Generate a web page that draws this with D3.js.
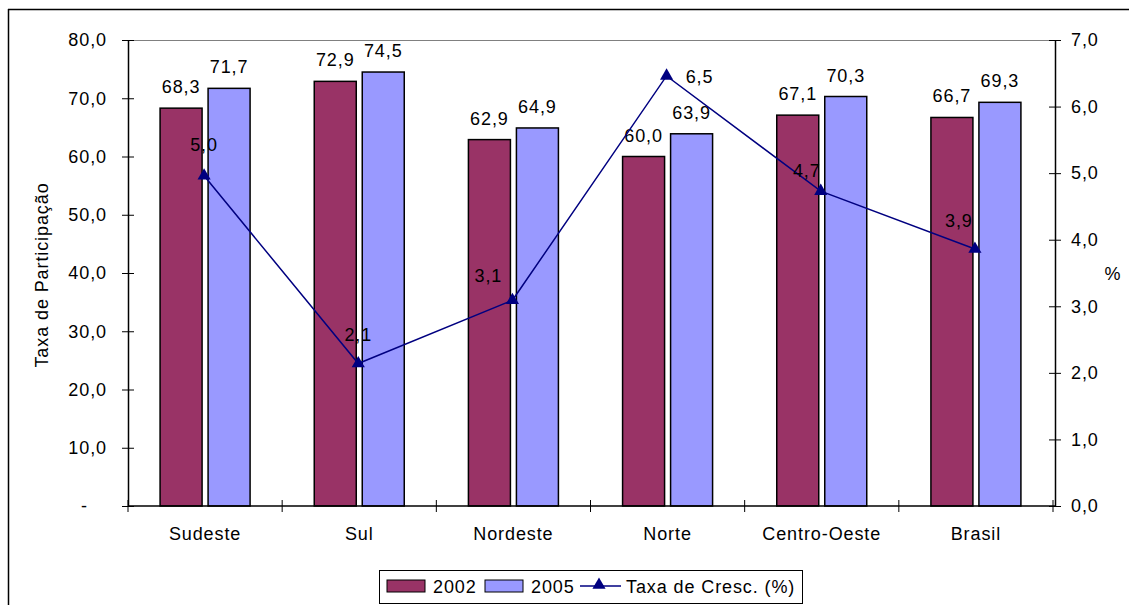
<!DOCTYPE html>
<html><head><meta charset="utf-8">
<script src="https://cdn.jsdelivr.net/npm/d3@7"></script>
<style>body{margin:0;background:#fff}svg{display:block;font-family:"Liberation Sans",Arial,sans-serif}</style>
</head><body><svg id="c" width="1129" height="605"></svg>
<script>
const categories = ["Sudeste","Sul","Nordeste","Norte","Centro-Oeste","Brasil"];
const values2002 = [68.3,72.9,62.9,60.0,67.1,66.7];
const values2005 = [71.7,74.5,64.9,63.9,70.3,69.3];
const growth = [4.96,2.14,3.09,6.46,4.73,3.86];
const leftTicks = [0,10,20,30,40,50,60,70,80];
const rightTicks = [0,1,2,3,4,5,6,7];
const seriesNames = ["2002","2005","Taxa de Cresc. (%)"];
// label offsets for line labels (layout)
const growthLabelOffsets = [[0,-25],[0,-23],[-24,-18],[33,7],[-14,-14],[-16,-22]];

const svg = d3.select("#c");
const L=128,R=1053,T=40,B=506;
const fmt = d => d.toFixed(1).replace(".",",");
const fs = 18;
svg.style("letter-spacing","0.9px");

// outer border (left/top)
svg.append("line").attr("x1",8.5).attr("x2",8.5).attr("y1",9).attr("y2",605).attr("stroke","#000").attr("stroke-width",1.5);
svg.append("line").attr("x1",8).attr("x2",1129).attr("y1",9.5).attr("y2",9.5).attr("stroke","#000").attr("stroke-width",1.5);

const x0 = d3.scaleBand().domain(categories).range([L,R]);
const yL = d3.scaleLinear().domain([0,80]).range([B,T]);
const yR = d3.scaleLinear().domain([0,7]).range([B,T]);
const barW = 42, gap = 6;

// plot top border
svg.append("line").attr("x1",L).attr("x2",R).attr("y1",T+0.5).attr("y2",T+0.5).attr("stroke","#808080");

const g = svg.append("g");
const series = [{vals:values2002,color:"#993366",off:-(barW+gap/2)},{vals:values2005,color:"#9999FF",off:gap/2}];
series.forEach(s=>{
  g.selectAll(null).data(categories).enter().append("rect")
    .attr("x",(d,i)=>x0(d)+x0.bandwidth()/2+s.off)
    .attr("y",(d,i)=>yL(s.vals[i]))
    .attr("width",barW).attr("height",(d,i)=>B-yL(s.vals[i]))
    .attr("fill",s.color).attr("stroke","#000").attr("stroke-width",1.5);
  g.selectAll(null).data(categories).enter().append("text")
    .attr("x",(d,i)=>x0(d)+x0.bandwidth()/2+s.off+barW/2)
    .attr("y",(d,i)=>yL(s.vals[i])-15)
    .attr("text-anchor","middle").attr("font-size",fs).text((d,i)=>fmt(s.vals[i]));
});

// axes
const axL = d3.axisLeft(yL).tickValues(leftTicks).tickSize(0).tickFormat(d=>d===0?"-":fmt(d));
const gl = svg.append("g").attr("transform",`translate(${L},0)`).call(axL);
gl.select(".domain").attr("stroke","#000").attr("stroke-width",1.5);
gl.selectAll(".tick text").attr("font-size",fs).attr("fill","#000").attr("x",-21).attr("font-family","Liberation Sans, Arial, sans-serif")
  .attr("dx",d=>d===0?"-19":"0");
gl.selectAll(".tick").append("line").attr("x1",-6).attr("x2",6).attr("stroke","#000");

const axR = d3.axisRight(yR).tickValues(rightTicks).tickSize(0).tickFormat(fmt);
const gr = svg.append("g").attr("transform",`translate(${R+2},0)`).call(axR);
gr.select(".domain").attr("stroke","#000").attr("stroke-width",1.5);
gr.selectAll(".tick text").attr("font-size",fs).attr("fill","#000").attr("x",16).attr("font-family","Liberation Sans, Arial, sans-serif");
gr.selectAll(".tick").append("line").attr("x1",-6).attr("x2",6).attr("stroke","#000");

// x axis
svg.append("line").attr("x1",L).attr("x2",R+2).attr("y1",B).attr("y2",B).attr("stroke","#000").attr("stroke-width",1.5);
const sep = categories.map(c=>x0(c)).concat([R]);
svg.selectAll(null).data(sep).enter().append("line")
  .attr("x1",d=>d).attr("x2",d=>d).attr("y1",B-6).attr("y2",B+6).attr("stroke","#000");
svg.selectAll(null).data(categories).enter().append("text")
  .attr("x",d=>x0(d)+x0.bandwidth()/2).attr("y",540).attr("text-anchor","middle").attr("font-size",fs).text(d=>d);

// axis titles
svg.append("text").attr("transform","translate(48,275) rotate(-90)").attr("text-anchor","middle").attr("font-size",fs).text("Taxa de Participação");
svg.append("text").attr("x",1113).attr("y",280).attr("text-anchor","middle").attr("font-size",fs).text("%");

// line
const cx = d=>x0(d)+x0.bandwidth()/2-1;
const line = d3.line().x((d,i)=>cx(categories[i])).y(d=>yR(d));
svg.append("path").datum(growth).attr("d",line).attr("fill","none").attr("stroke","#000080").attr("stroke-width",1.5);
const tri = d3.symbol().type(d3.symbolTriangle).size(75);
svg.selectAll(null).data(growth).enter().append("path")
  .attr("d",tri).attr("transform",(d,i)=>`translate(${cx(categories[i])},${yR(d)})`).attr("fill","#000080");
svg.selectAll(null).data(growth).enter().append("text")
  .attr("x",(d,i)=>cx(categories[i])+growthLabelOffsets[i][0])
  .attr("y",(d,i)=>yR(d)+growthLabelOffsets[i][1])
  .attr("text-anchor","middle").attr("font-size",fs).text(d=>fmt(d));

// legend
const lg = svg.append("g");
lg.append("rect").attr("x",379.5).attr("y",570.5).attr("width",423).attr("height",33).attr("fill","#fff").attr("stroke","#000");
lg.append("rect").attr("x",387).attr("y",580).attr("width",38).attr("height",12).attr("fill","#993366").attr("stroke","#000");
lg.append("text").attr("x",433).attr("y",593).attr("font-size",fs).text(seriesNames[0]);
lg.append("rect").attr("x",485).attr("y",580).attr("width",38).attr("height",12).attr("fill","#9999FF").attr("stroke","#000");
lg.append("text").attr("x",531).attr("y",593).attr("font-size",fs).text(seriesNames[1]);
lg.append("line").attr("x1",580).attr("x2",621).attr("y1",586).attr("y2",586).attr("stroke","#000080").attr("stroke-width",1.5);
lg.append("path").attr("d",tri).attr("transform","translate(599,585)").attr("fill","#000080");
lg.append("text").attr("x",626).attr("y",593).attr("font-size",fs).text(seriesNames[2]);
</script></body></html>
